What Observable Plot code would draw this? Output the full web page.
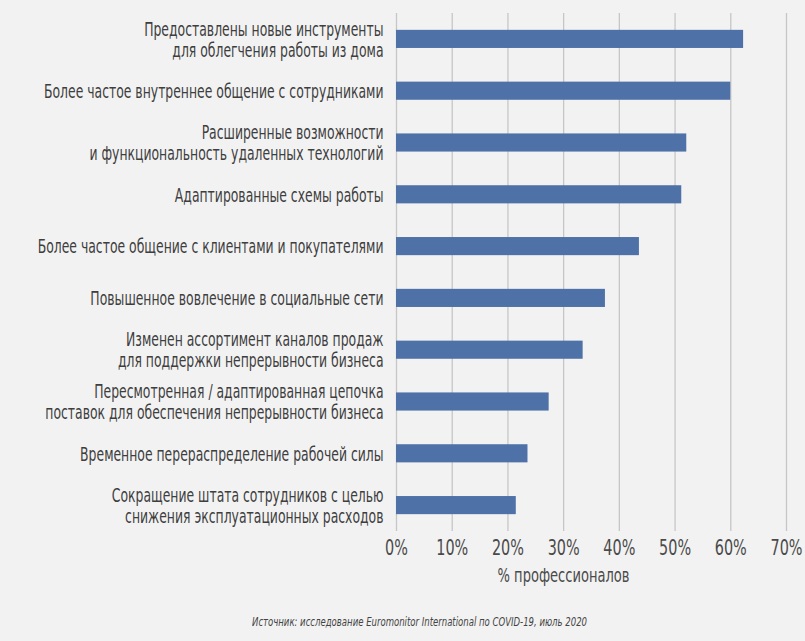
<!DOCTYPE html>
<html>
<head>
<meta charset="utf-8">
<script src="https://cdn.jsdelivr.net/npm/d3@7"></script>
<script src="https://cdn.jsdelivr.net/npm/@observablehq/plot@0.6"></script>
<style>
  body { margin: 0; background: #f2f2f2; }
  #wrap { position: relative; width: 805px; height: 641px; background: #f2f2f2; overflow: hidden; }
  #source {
    position: absolute; left: 252px; top: 615px;
    font-family: "DejaVu Sans", sans-serif;
    font-style: italic; font-size: 12px; color: #444; white-space: nowrap;
    transform-origin: left center;
  }
</style>
</head>
<body>
<div id="wrap">
  <div id="chart"></div>
  <div id="source">Источник: исследование Euromonitor International по COVID-19, июль 2020</div>
</div>
<script>
// Actions taken by businesses, share of professionals (%)
const categories = [
  "Предоставлены новые инструменты\nдля облегчения работы из дома",
  "Более частое внутреннее общение с сотрудниками",
  "Расширенные возможности\nи функциональность удаленных технологий",
  "Адаптированные схемы работы",
  "Более частое общение с клиентами и покупателями",
  "Повышенное вовлечение в социальные сети",
  "Изменен ассортимент каналов продаж\nдля поддержки непрерывности бизнеса",
  "Пересмотренная / адаптированная цепочка\nпоставок для обеспечения непрерывности бизнеса",
  "Временное перераспределение рабочей силы",
  "Сокращение штата сотрудников с целью\nснижения эксплуатационных расходов"
];
const values = [62.3, 60.0, 52.1, 51.2, 43.6, 37.5, 33.5, 27.4, 23.6, 21.5];
const xTicks = [0, 10, 20, 30, 40, 50, 60, 70];
const xLabel = "% профессионалов";

const data = categories.map((category, i) => ({category, value: values[i]}));
const font = "'DejaVu Sans', sans-serif";
const pct = d => d + "%";

const chart = Plot.plot({
  width: 805,
  height: 600,
  marginLeft: 396,
  marginRight: 19,
  marginTop: 13,
  marginBottom: 69,
  style: {background: "#f2f2f2", fontFamily: font, fontSize: "20px", color: "#3e3e3e"},
  x: {domain: [0, 70], ticks: xTicks, tickFormat: pct},
  y: {domain: categories, paddingInner: 0.65, paddingOuter: 0.325, round: false},
  marks: [
    Plot.gridX(xTicks, {stroke: "#c6c6c6", strokeOpacity: 1, strokeWidth: 1.3}),
    Plot.barX(data, {x: "value", y: "category", fill: "#4e71a8"}),
    Plot.axisX({ticks: xTicks, tickFormat: pct, tickSize: 0, tickPadding: 9, label: null, fontSize: 21, fill: "#4a4a4a"}),
    Plot.axisY({tickSize: 0, tickPadding: 13, label: null, lineHeight: 1.05, fontSize: 20}),
    Plot.text([xLabel], {text: d => d, frameAnchor: "bottom", dx: -28, dy: 50, fontSize: 20, fill: "#4a4a4a"})
  ]
});
document.getElementById("chart").append(chart);

// The labels are set in a condensed style: narrow each text horizontally
// about its anchor so the line widths follow that typeface.
function narrow(el, s, anchor) {
  const b = el.getBBox();
  const ax = anchor === "end" ? b.x + b.width : anchor === "middle" ? b.x + b.width / 2 : b.x;
  const t = el.getAttribute("transform") || "";
  el.setAttribute("transform", `${t} translate(${ax},0) scale(${s},1) translate(${-ax},0)`);
}
const texts = Array.from(chart.querySelectorAll("text"));
const flat = s => s.replace(/\n/g, "");
const catSet = new Set(categories.map(flat));
const tickSet = new Set(xTicks.map(pct));
const yTexts = texts.filter(t => catSet.has(t.textContent));
const xTexts = texts.filter(t => tickSet.has(t.textContent));
const labelTexts = texts.filter(t => t.textContent === xLabel);

const refY = yTexts.find(t => t.textContent === categories[1]);
const sy = refY ? 340 / refY.getBBox().width : 0.7;
yTexts.forEach(t => narrow(t, sy, "end"));
const refX = xTexts.find(t => t.textContent === "10%");
const sx = refX ? 32 / refX.getBBox().width : 0.7;
xTexts.forEach(t => narrow(t, sx, "middle"));
labelTexts.forEach(t => narrow(t, 132 / t.getBBox().width, "middle"));

const src = document.getElementById("source");
src.style.transform = `scaleX(${335 / src.getBoundingClientRect().width})`;
</script>
</body>
</html>
